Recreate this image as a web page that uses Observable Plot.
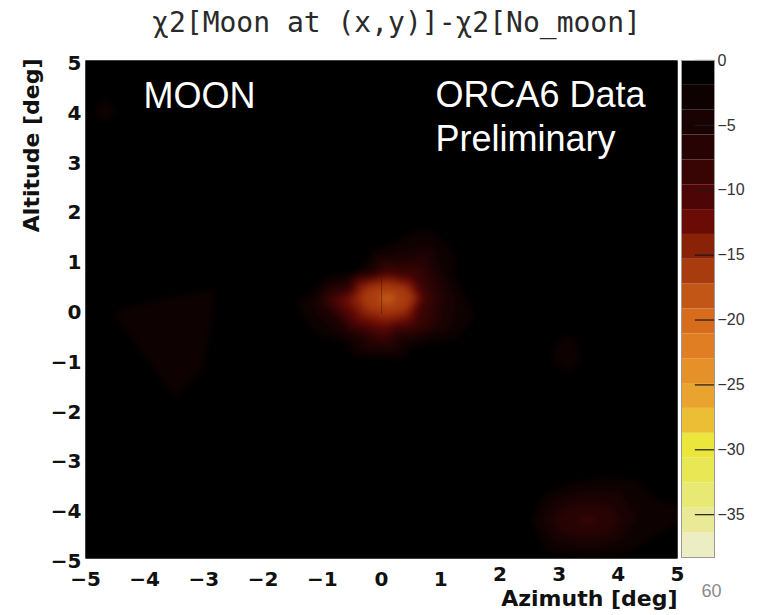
<!DOCTYPE html>
<html>
<head>
<meta charset="utf-8">
<script src="https://cdn.jsdelivr.net/npm/d3@7"></script>
<script src="https://cdn.jsdelivr.net/npm/@observablehq/plot@0.6"></script>
<style>
  html, body { margin: 0; padding: 0; background: white; }
  #wrap { position: relative; width: 757px; height: 615px; overflow: hidden; }
  #wrap svg { position: absolute; top: 0; }
</style>
</head>
<body>
<div id="wrap"></div>
<script>
// ---------- texts ----------
const titleText = "χ2[Moon at (x,y)]-χ2[No_moon]";
const xLabel = "Azimuth [deg]";
const yLabel = "Altitude [deg]";
const moonLabel = "MOON";
const orcaLabel = "ORCA6 Data\nPreliminary";
const pageNumber = "60";

// ---------- axes ----------
const azTicks = [-5, -4, -3, -2, -1, 0, 1, 2, 3, 4, 5];
const altTicks = [-5, -4, -3, -2, -1, 0, 1, 2, 3, 4, 5];
const zTicks = [0, -5, -10, -15, -20, -25, -30, -35];
const colorMin = -38.3;
const nLevels = 20;
// colour of each contour band, from 0 (top) down to the minimum (bottom)
const bandColors = [
  "#000000", "#0e0101", "#1a0202", "#280303", "#380404",
  "#4e0505", "#6a0c05", "#8a2208", "#a83c0e", "#c25616",
  "#d66c1c", "#e07e24", "#e6902a", "#e9a430", "#ebbe36",
  "#ebe63c", "#e9e854", "#e8e874", "#eaea96", "#ededc4"
];

// ---------- Δχ² samples [azimuth, altitude, Δχ²] ----------
const moonExcess = [
  [0.10, 0.22, -18.2],
  [-0.22, 0.22, -16.6], [-0.12, 0.35, -16.6], [0.10, 0.41, -16.6], [0.32, 0.35, -16.6],
  [0.42, 0.22, -16.6], [0.32, 0.09, -16.6], [0.10, 0.03, -16.6], [-0.12, 0.09, -16.6],
  [-0.45, 0.22, -14.6], [-0.28, 0.50, -14.6], [0.10, 0.60, -14.6], [0.45, 0.50, -14.6],
  [0.60, 0.22, -14.6], [0.45, -0.06, -14.6], [0.10, -0.18, -14.6], [-0.28, -0.06, -14.6],
  [-0.85, 0.20, -9.8], [-0.45, 0.62, -9.8], [0.10, 0.74, -9.8], [0.55, 0.64, -9.8],
  [0.72, 0.25, -9.8], [0.52, -0.32, -9.8], [0.05, -0.50, -9.8], [-0.48, -0.30, -9.8],
  [-1.10, 0.14, -4.6], [-0.55, 0.58, -4.6], [0.30, 1.05, -4.6], [0.78, 1.18, -4.6],
  [1.12, 0.35, -4.6], [1.05, -0.35, -4.6], [0.30, -0.60, -4.6], [-0.55, -0.50, -4.6],
  [-1.42, 0.12, -2.1], [-0.30, 0.82, -2.1], [0.87, 1.56, -2.1], [1.20, 0.70, -2.1],
  [1.55, -0.15, -2.1], [1.25, -0.55, -2.1], [0.55, -0.72, -2.1], [-0.55, -0.68, -2.1],
  [-1.80, 0.10, 0], [-1.00, 0.75, 0], [-0.20, 1.35, 0], [0.85, 2.00, 0], [1.60, 1.00, 0],
  [2.00, -0.20, 0], [1.50, -0.95, 0], [0.50, -1.10, 0], [-0.60, -1.05, 0], [-1.40, -0.55, 0]
];
const leftExcess = [
  [-3.50, -0.30, -2.4], [-3.30, -0.90, -2.4],
  [-4.50, -0.06, -2.0], [-4.00, 0.12, -2.0], [-3.30, 0.28, -2.0], [-2.85, 0.40, -2.0],
  [-2.90, -0.40, -2.0], [-3.05, -1.20, -2.0], [-3.48, -1.74, -2.0], [-4.00, -0.90, -2.0],
  [-4.95, -0.10, 0], [-4.30, 0.55, 0], [-3.30, 0.75, 0], [-2.40, 0.55, 0], [-2.50, -0.60, 0],
  [-2.70, -1.50, 0], [-3.50, -2.20, 0], [-4.30, -1.40, 0], [-4.85, -0.70, 0]
];
const rightSpot = [
  [3.13, -0.88, -2.6],
  [3.13, -0.50, -1.95], [3.31, -0.70, -1.95], [3.36, -1.00, -1.95], [3.13, -1.26, -1.95],
  [2.90, -1.00, -1.95], [2.95, -0.70, -1.95],
  [3.13, -0.10, 0], [3.70, -0.60, 0], [3.70, -1.20, 0], [3.13, -1.70, 0], [2.55, -1.20, 0], [2.55, -0.60, 0]
];
const topLeftSpot = [
  [-4.67, 4.00, -2.3],
  [-4.67, 4.25, -1.95], [-4.47, 4.00, -1.95], [-4.67, 3.75, -1.95], [-4.86, 4.00, -1.95],
  [-4.67, 4.70, 0], [-4.10, 4.00, 0], [-4.67, 3.30, 0], [-5.00, 4.00, 0]
];
const bottomRightExcess = [
  [3.47, -4.24, -8.2],
  [3.02, -4.24, -6.6], [3.15, -4.05, -6.6], [3.47, -3.98, -6.6], [3.80, -4.05, -6.6],
  [3.92, -4.24, -6.6], [3.80, -4.43, -6.6], [3.47, -4.50, -6.6], [3.15, -4.43, -6.6],
  [2.74, -4.25, -4.3], [3.00, -3.85, -4.3], [3.50, -3.70, -4.3], [4.00, -3.75, -4.3],
  [4.20, -4.20, -4.3], [4.00, -4.60, -4.3], [3.45, -4.72, -4.3], [2.95, -4.62, -4.3],
  [2.55, -4.25, -2.0], [2.75, -3.75, -2.0], [3.20, -3.50, -2.0], [3.80, -3.40, -2.0],
  [4.30, -3.45, -2.0], [4.66, -3.85, -2.0], [4.65, -4.50, -2.0], [4.20, -4.85, -2.0],
  [3.60, -4.95, -2.0], [2.90, -4.90, -2.0], [5.00, -3.95, -2.0], [5.00, -4.30, -1.95],
  [3.50, -5.00, -1.5],
  [2.20, -4.30, 0], [2.40, -3.50, 0], [3.00, -3.00, 0], [3.90, -2.90, 0], [4.60, -3.00, 0],
  [5.00, -3.40, 0], [5.00, -4.80, 0], [4.60, -5.00, 0], [2.60, -5.00, 0]
];
const background = [
  [-5, 5, 0], [-2.5, 5, 0], [0, 5, 0], [2.5, 5, 0], [5, 5, 0], [5, 2.5, 0], [5, 0.5, 0],
  [5, -2, 0], [5, -5, 0], [1.5, -5, 0], [0, -5, 0], [-2.5, -5, 0], [-5, -5, 0],
  [-5, -2.5, 0], [-5, 1.5, 0], [-5, 2.8, 0],
  [-2.5, 2.5, 0], [0, 3, 0], [2.5, 2.5, 0], [3.5, 0.5, 0], [-1, -2.5, 0], [1.2, -2.5, 0],
  [-3.5, -3.5, 0], [-1, -4, 0], [1.5, -4, 0]
];
const moonMarkerAz = [0];

// ---------- build ----------
const samples = [...moonExcess, ...leftExcess, ...rightSpot, ...topLeftSpot, ...bottomRightExcess, ...background]
  .map(([az, alt, dchi2]) => ({az, alt, dchi2}));
const step = -colorMin / nLevels;
const thresholds = d3.range(1, nLevels).map(k => colorMin + k * step);
const colorScale = {type: "threshold", domain: thresholds, range: bandColors.slice().reverse(), legend: false};
const intFormat = d3.format("d");

const axisFont = {fontFamily: "DejaVu Sans", fontWeight: "bold", fontSize: 20, fill: "#111"};

const main = Plot.plot({
  width: 757, height: 615,
  marginLeft: 85, marginRight: 80, marginTop: 60, marginBottom: 57,
  style: {fontFamily: "Liberation Sans", background: "transparent", overflow: "visible"},
  x: {domain: [-5, 5]},
  y: {domain: [-5, 5]},
  color: colorScale,
  marks: [
    Plot.frame({fill: "black"}),
    Plot.raster(samples, {x: "az", y: "alt", fill: "dchi2", interpolate: "barycentric",
      x1: -5, x2: 5, y1: -5, y2: 5, blur: 3}),
    Plot.ruleX(moonMarkerAz, {y1: -0.1, y2: 0.6, stroke: "#000", strokeOpacity: 0.3}),
    Plot.axisY(altTicks, {...axisFont, tickSize: 0, tickPadding: 4, dy: 3, label: null, tickFormat: intFormat}),
    Plot.axisX(azTicks.filter(t => t < 2), {...axisFont, tickSize: 0, tickPadding: 13, label: null, tickFormat: intFormat}),
    Plot.axisX(azTicks.filter(t => t >= 2), {...axisFont, tickSize: 0, tickPadding: 13, dy: -5, label: null, tickFormat: intFormat}),
    Plot.text([xLabel], {frameAnchor: "bottom-right", textAnchor: "end", lineAnchor: "bottom", dy: 47,
      fontFamily: "DejaVu Sans", fontWeight: "bold", fontSize: 22, fill: "#111"}),
    Plot.text([yLabel], {frameAnchor: "top-left", rotate: -90, textAnchor: "end", lineAnchor: "middle", dx: -54, dy: -2,
      fontFamily: "DejaVu Sans", fontWeight: "bold", fontSize: 22, fill: "#111"}),
    Plot.text([titleText], {frameAnchor: "top", lineAnchor: "bottom", dx: 15, dy: -29,
      fontFamily: "DejaVu Sans Mono", fontSize: 28, fill: "#2a2a2a"}),
    Plot.text([moonLabel], {frameAnchor: "top-left", textAnchor: "start", lineAnchor: "bottom", dx: 58, dy: 47,
      fontFamily: "Liberation Sans", fontSize: 36, fill: "white"}),
    Plot.text([orcaLabel], {frameAnchor: "top-left", textAnchor: "start", lineAnchor: "bottom", dx: 350, dy: 90,
      lineHeight: 1.2, fontFamily: "Liberation Sans", fontSize: 36, fill: "white"}),
    Plot.text([pageNumber], {frameAnchor: "bottom-right", textAnchor: "start", lineAnchor: "bottom", dx: 24, dy: 38,
      fontFamily: "Liberation Sans", fontSize: 18, fill: "#8a8a8a"})
  ]
});
main.style.left = "0px";

const bandLows = d3.range(nLevels).map(k => colorMin + k * step);
const bar = Plot.plot({
  width: 76, height: 615,
  marginLeft: 0, marginRight: 43, marginTop: 60, marginBottom: 58,
  style: {fontFamily: "Liberation Sans", background: "transparent", overflow: "visible"},
  x: {domain: [0, 1], axis: null},
  y: {domain: [colorMin, 0]},
  color: colorScale,
  marks: [
    Plot.rect(bandLows, {x1: 0, x2: 1, y1: d => d, y2: d => d + step, fill: d => d + step / 2}),
    Plot.ruleY(zTicks, {x1: 0.42, x2: 1, stroke: "#1a1a1a", strokeWidth: 1.2}),
    Plot.frame({stroke: "#9a9a9a"}),
    Plot.axisY(zTicks, {anchor: "right", tickSize: 0, tickPadding: 3, fontSize: 16, fill: "#333", label: null, tickFormat: intFormat})
  ]
});
bar.style.left = "681px";

const wrap = document.getElementById("wrap");
wrap.appendChild(main);
wrap.appendChild(bar);
</script>
</body>
</html>
